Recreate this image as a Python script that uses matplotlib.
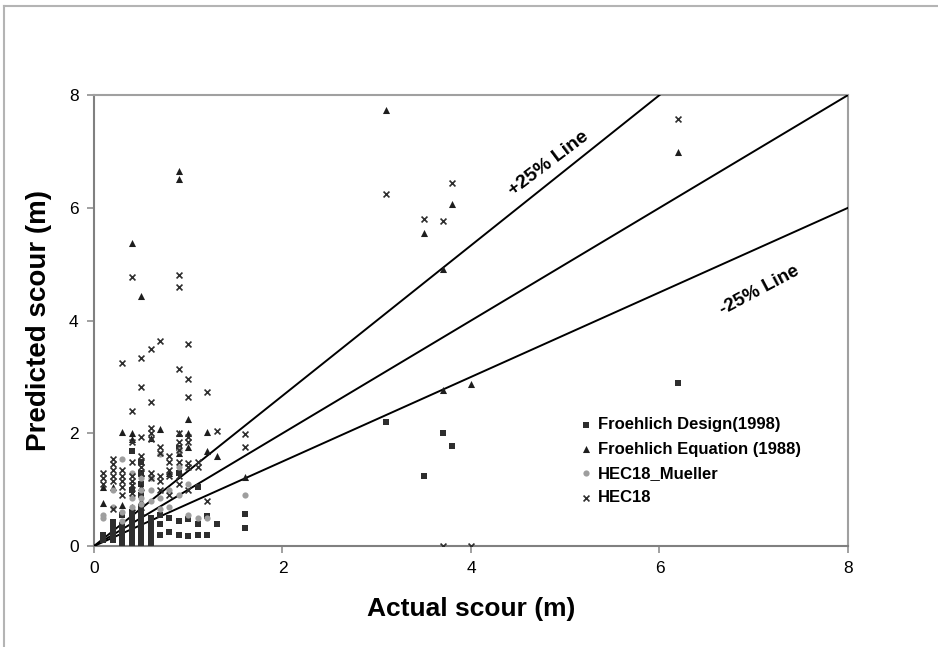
import numpy as np
import matplotlib.pyplot as plt
from matplotlib.lines import Line2D

plt.rcParams['font.family'] = ['Liberation Sans', 'DejaVu Sans']

# Froehlich Design (1998) - squares
design_x = [0.1, 0.1, 0.1,
            0.2, 0.2, 0.2, 0.2, 0.2, 0.2, 0.2,
            0.3, 0.3, 0.3, 0.3, 0.3, 0.3, 0.3, 0.3,
            0.4, 0.4, 0.4, 0.4, 0.4, 0.4, 0.4, 0.4, 0.4, 0.4,
            0.5, 0.5, 0.5, 0.5, 0.5, 0.5, 0.5, 0.5, 0.5, 0.5, 0.5, 0.5,
            0.6, 0.6, 0.6, 0.6, 0.6, 0.6,
            0.7, 0.7, 0.7, 0.8, 0.8,
            0.9, 0.9, 0.9, 0.9, 1.0, 1.0,
            1.1, 1.1, 1.1, 1.2, 1.2, 1.3, 1.6, 1.6,
            3.1, 3.7, 3.8, 3.5, 6.2]
design_y = [0.1, 0.15, 0.2,
            0.1, 0.15, 0.2, 0.25, 0.3, 0.35, 0.42,
            0.05, 0.1, 0.15, 0.2, 0.25, 0.3, 0.38, 0.55,
            0.05, 0.1, 0.15, 0.2, 0.3, 0.4, 0.5, 0.6, 1.0, 1.68,
            0.05, 0.1, 0.2, 0.3, 0.4, 0.5, 0.6, 0.7, 0.9, 1.1, 1.3, 1.5,
            0.05, 0.1, 0.2, 0.3, 0.4, 0.5,
            0.2, 0.4, 0.55, 0.25, 0.5,
            0.2, 0.45, 1.3, 1.74, 0.18, 0.48,
            0.2, 0.39, 1.05, 0.2, 0.53, 0.39, 0.32, 0.57,
            2.2, 2.0, 1.77, 1.24, 2.89]

# Froehlich Equation (1988) - triangles
equation_x = [0.4, 0.5, 0.9, 0.9, 3.1, 3.5, 3.8, 3.7, 6.2, 3.7, 4.0,
              1.6, 1.3, 1.2, 1.2, 1.0, 1.0, 1.0,
              0.1, 0.1, 0.2, 0.3, 0.3, 0.4, 0.4, 0.4, 0.5, 0.5, 0.5,
              0.6, 0.7, 0.8, 0.9, 0.9]
equation_y = [5.37, 4.43, 6.65, 6.51, 7.73, 5.55, 6.06, 4.91, 6.99, 2.77, 2.87,
              1.22, 1.6, 2.02, 1.69, 2.25, 2.0, 1.76,
              1.05, 0.77, 1.05, 2.02, 0.73, 2.0, 1.9, 0.7, 1.3, 1.05, 0.8,
              1.92, 2.07, 1.3, 2.0, 1.65]

# HEC18_Mueller - grey circles
mueller_x = [0.1, 0.1, 0.2, 0.2, 0.3, 0.3, 0.3, 0.4, 0.4, 0.4,
             0.5, 0.5, 0.5, 0.5, 0.6, 0.6, 0.6, 0.7, 0.7, 0.7,
             0.8, 0.8, 0.9, 0.9, 0.9, 1.0, 1.0, 1.1, 1.2, 1.6]
mueller_y = [0.55, 0.5, 0.7, 1.0, 1.55, 0.6, 0.45, 0.85, 0.7, 1.3,
             1.2, 1.0, 0.85, 0.75, 1.2, 1.0, 0.8, 1.63, 0.85, 0.65,
             1.0, 0.7, 1.7, 1.4, 0.9, 1.1, 0.55, 0.5, 0.5, 0.9]

# HEC18 - crosses
hec_x = [0.3, 0.4, 0.4, 0.5, 0.5, 0.6, 0.6, 0.7, 0.9, 0.9, 0.9,
         1.0, 1.0, 1.0, 1.2, 1.3, 1.6, 1.6,
         3.1, 3.5, 3.7, 3.8, 6.2, 3.7, 4.0,
         0.1, 0.1, 0.1,
         0.2, 0.2, 0.2, 0.2, 0.2, 0.2,
         0.3, 0.3, 0.3, 0.3, 0.3,
         0.4, 0.4, 0.4, 0.4, 0.4, 0.4,
         0.5, 0.5, 0.5, 0.5, 0.5, 0.5,
         0.6, 0.6, 0.6, 0.6, 0.6,
         0.7, 0.7, 0.7, 0.7, 0.7,
         0.8, 0.8, 0.8, 0.8, 0.8,
         0.9, 0.9, 0.9, 0.9, 0.9, 0.9,
         1.0, 1.0, 1.0, 1.0, 1.0,
         1.1, 1.1, 1.2]
hec_y = [3.24, 4.77, 2.39, 3.34, 2.83, 3.49, 2.55, 3.64, 4.8, 4.59, 3.15,
         3.58, 2.97, 2.64, 2.74, 2.04, 1.98, 1.75,
         6.24, 5.8, 5.76, 6.44, 7.57, 0.0, 0.0,
         1.3, 1.2, 1.1,
         1.55, 1.45, 1.35, 1.25, 1.15, 0.65,
         1.35, 1.25, 1.15, 1.05, 0.9,
         1.85, 1.5, 1.25, 1.15, 1.08, 0.95,
         1.93, 1.6, 1.5, 1.4, 1.3, 0.6,
         2.1, 2.0, 1.9, 1.3, 1.2,
         1.75, 1.65, 1.25, 1.15, 1.0,
         1.6, 1.5, 1.35, 1.25, 0.9,
         2.0, 1.85, 1.7, 1.5, 1.25, 1.1,
         1.93, 1.85, 1.47, 1.4, 1.0,
         1.5, 1.4, 0.8]

# reference lines: +25%, 1:1, -25%
line_slopes = [1 / 0.75, 1.0, 0.75]

fig = plt.figure(figsize=(9.38, 6.47), dpi=100)
ax = fig.add_axes([0.1002, 0.156, 0.8038, 0.697])

# outer frame of the picture
fig.add_artist(Line2D([4 / 938, 4 / 938], [0, 1 - 6 / 647], transform=fig.transFigure,
                      color='#b4b4b4', lw=1.5))
fig.add_artist(Line2D([4 / 938, 1], [1 - 6 / 647, 1 - 6 / 647], transform=fig.transFigure,
                      color='#b4b4b4', lw=1.5))

xl = np.array([0, 8])
for s in line_slopes:
    ax.plot(xl, s * xl, color='black', lw=1.4, zorder=3)

ax.scatter(design_x, design_y, marker='s', s=20, color='#2e2e2e', lw=0,
           label='Froehlich Design(1998)', zorder=4)
ax.scatter(equation_x, equation_y, marker='^', s=26, color='#1e1e1e', lw=0,
           label='Froehlich Equation (1988)', zorder=4)
ax.scatter(mueller_x, mueller_y, marker='o', s=20, color='#9e9e9e', lw=0,
           label='HEC18_Mueller', zorder=4)
ax.scatter(hec_x, hec_y, marker='x', s=18, color='#2e2e2e', lw=1.2,
           label='HEC18', zorder=4)

ax.text(4.82, 6.78, '+25% Line', rotation=37, fontsize=14, fontweight='bold',
        ha='center', va='center')
ax.text(7.06, 4.54, '-25% Line', rotation=28, fontsize=13.5, fontweight='bold',
        ha='center', va='center')

ax.set_xlim(0, 8)
ax.set_ylim(0, 8)
ax.set_xticks([0, 2, 4, 6, 8])
ax.set_yticks([0, 2, 4, 6, 8])
ax.tick_params(direction='out', length=5, width=1.2, color='#909090',
               labelsize=12.5, pad=6)
for sp in ax.spines.values():
    sp.set_color('#a0a0a0')
    sp.set_linewidth(1.5)
ax.spines['left'].set_color('#808080')
ax.spines['bottom'].set_color('#808080')

ax.set_xlabel('Actual scour (m)', fontsize=19, fontweight='bold', labelpad=15)
ax.set_ylabel('Predicted scour (m)', fontsize=20, fontweight='bold', labelpad=12)

leg = ax.legend(loc='upper left', bbox_to_anchor=(0.637, 0.3), frameon=False,
                handlelength=0.6, handletextpad=0.4, labelspacing=0.55,
                borderaxespad=0, prop={'size': 12, 'weight': 'bold'})

fig.savefig('out.png', dpi=100)
